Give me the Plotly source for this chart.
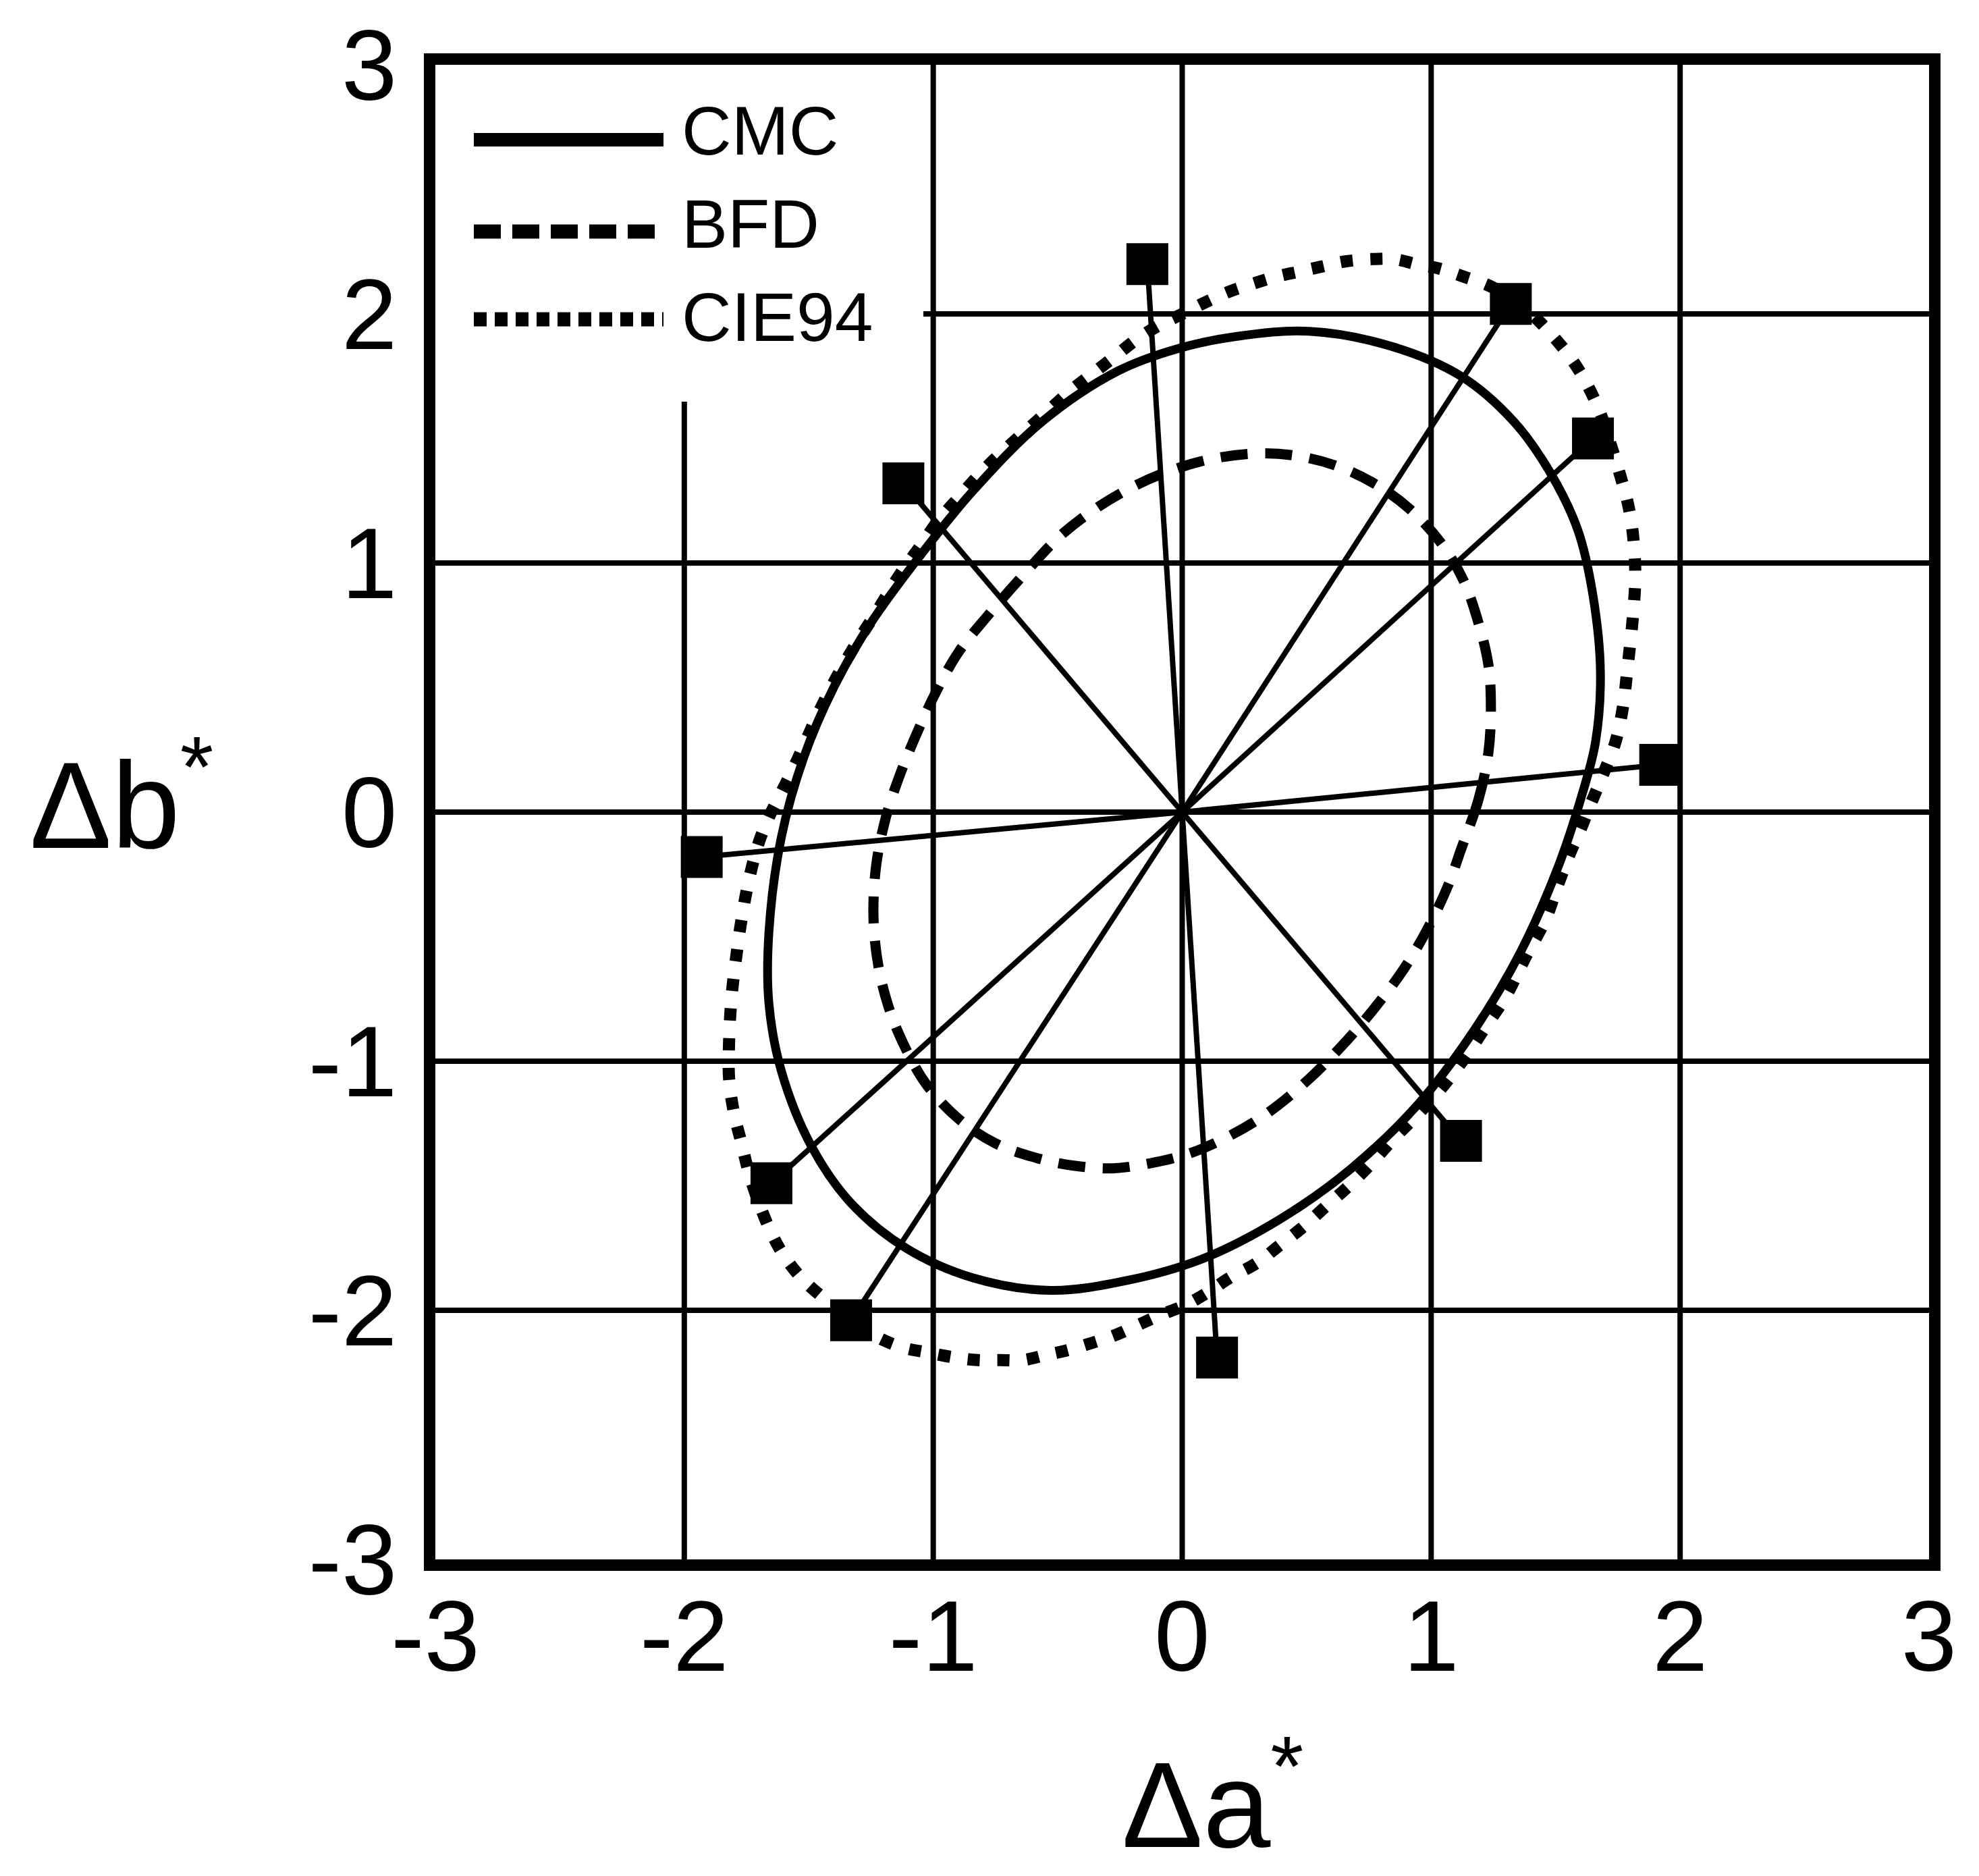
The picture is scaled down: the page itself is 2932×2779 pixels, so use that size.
import plotly.graph_objects as go

# ---------------- data ----------------
tick_vals = [-3, -2, -1, 0, 1, 2, 3]
tick_text = ["-3", "-2", "-1", "0", "1", "2", "3"]

# visual-assessment points (filled squares), each joined to the origin
point_da = [-0.14, 1.32, 1.65, 1.92, 1.12, 0.14, -1.33, -1.65, -1.93, -1.12]
point_db = [2.20, 2.04, 1.50, 0.19, -1.32, -2.19, -2.04, -1.49, -0.18, 1.32]
origin_da = 0.0
origin_db = 0.0

# CMC ellipse (solid)
cmc_da = [1.60, 1.66, 1.68, 1.65, 1.59, 1.48, 1.33, 1.12, 0.84, 0.51, 0.22, -0.02,
          -0.26, -0.56, -0.84, -1.06, -1.25, -1.40, -1.52, -1.61, -1.66, -1.66,
          -1.61, -1.49, -1.33, -1.11, -0.84, -0.53, -0.22, 0.09, 0.40, 0.68, 0.95,
          1.17, 1.36, 1.51, 1.60]
cmc_db = [0.05, 0.28, 0.56, 0.87, 1.13, 1.36, 1.57, 1.75, 1.87, 1.93, 1.91, 1.86,
          1.77, 1.57, 1.29, 1.02, 0.76, 0.50, 0.22, -0.10, -0.48, -0.77,
          -1.04, -1.34, -1.57, -1.75, -1.87, -1.92, -1.88, -1.79, -1.63, -1.43, -1.17,
          -0.88, -0.56, -0.22, 0.05]

# BFD ellipse (dashed)
bfd_da = [1.12, 1.19, 1.23, 1.24, 1.23, 1.19, 1.13, 1.04, 0.91, 0.77, 0.62, 0.46,
          0.31, 0.13, -0.05, -0.21, -0.36, -0.50, -0.64, -0.78, -0.90, -0.99,
          -1.06, -1.13, -1.19, -1.23, -1.24, -1.22, -1.18, -1.12, -1.03, -0.90,
          -0.75, -0.58, -0.43, -0.28, -0.13, 0.03, 0.19, 0.34, 0.50, 0.64, 0.77,
          0.89, 0.99, 1.07, 1.12]
bfd_db = [-0.15, 0.05, 0.24, 0.42, 0.59, 0.76, 0.93, 1.08, 1.22, 1.32, 1.39, 1.43,
          1.44, 1.42, 1.37, 1.30, 1.21, 1.10, 0.95, 0.79, 0.64, 0.48,
          0.33, 0.16, -0.02, -0.22, -0.43, -0.62, -0.78, -0.93, -1.09, -1.23,
          -1.33, -1.39, -1.42, -1.43, -1.41, -1.37, -1.30, -1.21, -1.08, -0.94, -0.79,
          -0.63, -0.46, -0.29, -0.15]

# CIE94 ellipse (dotted)
cie94_da = [1.64, 1.69, 1.74, 1.77, 1.79, 1.81, 1.82, 1.81, 1.79, 1.76, 1.72, 1.68,
            1.63, 1.57, 1.49, 1.38, 1.24, 1.13, 1.04, 0.94, 0.85, 0.76, 0.65, 0.56,
            0.47, 0.38, 0.28, 0.19, 0.10, 0.00, -0.10, -0.18, -0.27, -0.36, -0.45,
            -0.55, -0.64, -0.74, -0.82, -0.90, -0.98, -1.05, -1.13, -1.23, -1.32,
            -1.40, -1.46, -1.51, -1.56, -1.61, -1.66, -1.70, -1.74, -1.77, -1.79,
            -1.81, -1.82, -1.82, -1.80, -1.77, -1.74, -1.70, -1.65, -1.60, -1.53,
            -1.43, -1.33, -1.22, -1.12, -1.02, -0.91, -0.82, -0.73, -0.64, -0.55,
            -0.46, -0.36, -0.27, -0.18, -0.09, 0.01, 0.10, 0.19, 0.30, 0.39, 0.48,
            0.58, 0.67, 0.76, 0.85, 0.95, 1.04, 1.14, 1.22, 1.30, 1.38, 1.46, 1.51,
            1.56, 1.60, 1.64]
cie94_db = [0.03, 0.15, 0.28, 0.42, 0.59, 0.78, 0.95, 1.12, 1.24, 1.35, 1.48, 1.60,
            1.71, 1.81, 1.91, 2.02, 2.11, 2.15, 2.18, 2.20, 2.22, 2.22, 2.21, 2.19,
            2.17, 2.15, 2.12, 2.09, 2.05, 2.00, 1.95, 1.90, 1.83, 1.76, 1.69,
            1.60, 1.52, 1.43, 1.35, 1.26, 1.17, 1.07, 0.96, 0.80, 0.66,
            0.52, 0.40, 0.29, 0.18, 0.08, -0.02, -0.12, -0.27, -0.43, -0.57,
            -0.74, -0.92, -1.07, -1.21, -1.33, -1.45, -1.57, -1.69, -1.78, -1.87,
            -1.96, -2.04, -2.11, -2.15, -2.17, -2.19, -2.20, -2.20, -2.20, -2.18,
            -2.16, -2.13, -2.10, -2.06, -2.02, -1.98, -1.93, -1.87, -1.81, -1.74, -1.67,
            -1.58, -1.50, -1.41, -1.31, -1.21, -1.11, -0.98, -0.86, -0.74, -0.58, -0.43, -0.29,
            -0.16, -0.07, 0.03]

series_names = ["CMC", "BFD", "CIE94"]
x_title = "Δa<sup>*</sup>"
y_title = "Δb<sup>*</sup>"

# ---------------- styling ----------------
FONT = "Liberation Sans, Arial, Helvetica, sans-serif"
W, H = 2932, 2779
M_L, M_R, M_T, M_B = 645, 74, 96, 469
PW, PH = W - M_L - M_R, H - M_T - M_B
FRAME_W = 17

curve_style = {
    "CMC": dict(width=13, dash="solid"),
    "BFD": dict(width=15, dash="40px,26px"),
    "CIE94": dict(width=18, dash="18px,26px"),
}
legend_style = {
    "CMC": dict(width=20, dash="solid"),
    "BFD": dict(width=21, dash="40px,17px"),
    "CIE94": dict(width=21, dash="19px,12px"),
}

fig = go.Figure()

curves = {"CIE94": (cie94_da, cie94_db), "BFD": (bfd_da, bfd_db), "CMC": (cmc_da, cmc_db)}
for name, (xs, ys) in curves.items():
    st = curve_style[name]
    fig.add_trace(go.Scatter(
        x=xs, y=ys, mode="lines", name=name, showlegend=False,
        line=dict(color="black", width=st["width"], dash=st["dash"],
                  shape="spline", smoothing=1.0),
        hoverinfo="skip"))

# radial lines from origin to each point
rx, ry = [], []
for a, b in zip(point_da, point_db):
    rx += [origin_da, a, None]
    ry += [origin_db, b, None]
fig.add_trace(go.Scatter(x=rx, y=ry, mode="lines", showlegend=False,
                         line=dict(color="black", width=8), hoverinfo="skip"))

fig.add_trace(go.Scatter(x=point_da, y=point_db, mode="markers", showlegend=False,
                         marker=dict(symbol="square", size=62, color="black",
                                     line=dict(width=0))))

axis_common = dict(
    range=[-3, 3], tickmode="array", tickvals=tick_vals, ticktext=tick_text,
    showgrid=False, zeroline=False,
    showline=True, linecolor="black", linewidth=FRAME_W, mirror=True,
    ticks="", tickfont=dict(family=FONT, size=148, color="black"),
    fixedrange=True,
)

fig.update_layout(
    width=W, height=H,
    margin=dict(l=M_L, r=M_R, t=M_T, b=M_B, pad=0),
    paper_bgcolor="white", plot_bgcolor="white",
    showlegend=False,
    xaxis=dict(axis_common, ticklabelstandoff=-30),
    yaxis=dict(axis_common, ticklabelstandoff=10),
    font=dict(family=FONT, color="black"),
)

# legend panel region (grid lines are not drawn behind the legend)
lo, hi = tick_vals[0], tick_vals[-1]
panel_right = lo + (1368 - M_L) / PW * (hi - lo)
panel_bottom = hi - (595 - M_T) / PH * (hi - lo)

# interior grid lines at the tick values, stopping at the legend panel
for v in tick_vals[1:-1]:
    v_top = panel_bottom if v < panel_right else hi
    fig.add_shape(type="line", xref="x", yref="y", x0=v, x1=v, y0=lo, y1=v_top,
                  line=dict(color="black", width=8), layer="below")
    h_left = panel_right if v > panel_bottom else lo
    fig.add_shape(type="line", xref="x", yref="y", x0=h_left, x1=hi, y0=v, y1=v,
                  line=dict(color="black", width=8), layer="below")

# heavy plot frame drawn on top, just outside the plotting area
hx, hy = FRAME_W / 2 / PW, FRAME_W / 2 / PH
fig.add_shape(type="rect", xref="paper", yref="paper",
              x0=-hx, x1=1 + hx, y0=-hy, y1=1 + hy,
              line=dict(color="black", width=FRAME_W), fillcolor="rgba(0,0,0,0)",
              layer="above")

# custom legend: long line samples + labels
leg_y_px = [207, 343, 473]
txt_y_px = [194, 332, 470]
for name, ly, ty in zip(series_names, leg_y_px, txt_y_px):
    st = legend_style[name]
    yp = 1 - (ly - M_T) / PH
    fig.add_shape(type="line", xref="paper", yref="paper",
                  x0=(702 - M_L) / PW, x1=(983 - M_L) / PW, y0=yp, y1=yp,
                  line=dict(color="black", width=st["width"], dash=st["dash"]))
    fig.add_annotation(text=name, xref="paper", yref="paper",
                       x=(1008 - M_L) / PW, y=1 - (ty - M_T) / PH,
                       xanchor="left", yanchor="middle", showarrow=False,
                       font=dict(family=FONT, size=102, color="black"))

# axis titles
fig.add_annotation(text=x_title, xref="paper", yref="paper",
                   x=(1660 - M_L) / PW, y=1 - (2776 - M_T) / PH,
                   xanchor="left", yanchor="bottom", showarrow=False,
                   font=dict(family=FONT, size=180, color="black"))
fig.add_annotation(text=y_title, xref="paper", yref="paper",
                   x=(42 - M_L) / PW, y=1 - (1180 - M_T) / PH,
                   xanchor="left", yanchor="middle", showarrow=False,
                   font=dict(family=FONT, size=182, color="black"))

fig.write_html("out.html", config={"displayModeBar": False},
               post_script="document.body.style.margin='0';")
